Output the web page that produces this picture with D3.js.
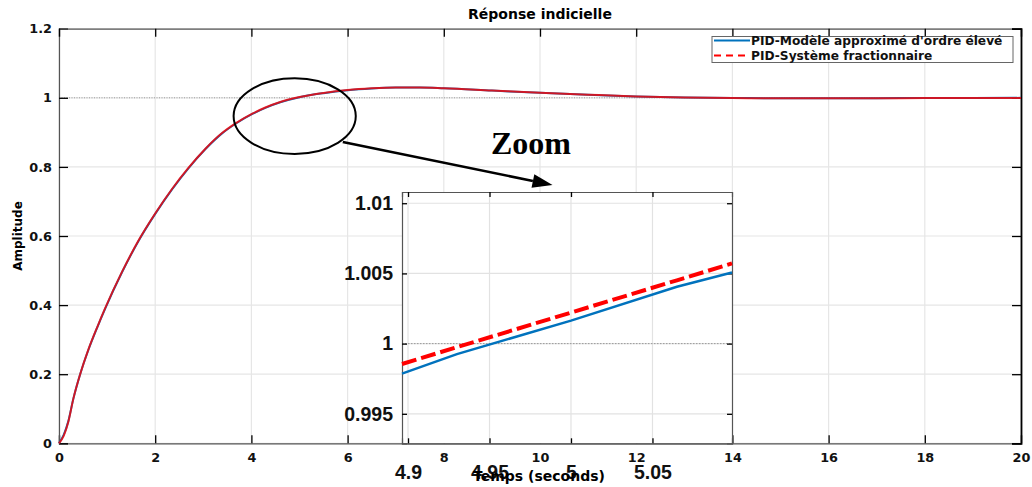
<!DOCTYPE html>
<html><head><meta charset="utf-8">
<script src="https://cdn.jsdelivr.net/npm/d3@7"></script>
<style>body{margin:0;background:#fff}svg{display:block}</style>
</head><body>
<svg id="c" width="1032" height="487"></svg>
<script>
// ---- data ----
const time = [0, 0.1, 0.19, 0.3, 0.44, 0.61, 0.8, 0.96, 1.31, 1.65, 2.0, 2.35, 2.69, 3.04, 3.39, 3.67, 4.03, 4.29, 4.6, 5.0, 5.5, 6.0, 6.5, 7.0, 7.5, 8.0, 9.0, 10.0, 11.0, 12.0, 13.0, 14.0, 15.0, 16.0, 17.0, 18.0, 20.0];
const bluePID = [0, 0.025, 0.062, 0.13, 0.2, 0.27, 0.337, 0.39, 0.495, 0.585, 0.664, 0.735, 0.796, 0.851, 0.897, 0.925, 0.954, 0.971, 0.987, 1.0017, 1.0135, 1.022, 1.027, 1.0295, 1.0295, 1.0275, 1.021, 1.0145, 1.009, 1.004, 1.001, 0.9995, 0.9988, 0.9987, 0.999, 0.9993, 0.9998];
const redPID  = [0, 0.022, 0.06, 0.13, 0.2, 0.271, 0.338, 0.391, 0.496, 0.586, 0.665, 0.736, 0.797, 0.852, 0.898, 0.926, 0.955, 0.972, 0.988, 1.0022, 1.014, 1.0224, 1.0274, 1.0299, 1.0299, 1.0278, 1.0212, 1.0147, 1.0091, 1.0041, 1.0008, 0.9992, 0.9985, 0.9985, 0.9988, 0.9991, 0.9996];
const insetTime = [4.8963, 4.93, 5.0, 5.065, 5.0988];
const insetBlue = [0.99786, 0.99925, 1.00164, 1.00405, 1.00507];
const insetRed  = [0.99855, 0.99975, 1.00221, 1.00451, 1.00571];
const xTicks = [0, 2, 4, 6, 8, 10, 12, 14, 16, 18, 20];
const yTicks = [0, 0.2, 0.4, 0.6, 0.8, 1, 1.2];
const insetXTicks = [4.9, 4.95, 5, 5.05];
const insetYTicks = [0.995, 1, 1.005, 1.01];
const legendLabels = ["PID-Modèle approximé d'ordre élevé", "PID-Système fractionnaire"];
const titleText = "Réponse indicielle";
const xLabel = "Temps (seconds)";
const yLabel = "Amplitude";

const BLUE = "#0072BD", RED = "#FF0000";
const svg = d3.select("#c");
const L = 59, R = 1021, T = 28.7, B = 443.3;
const x = d3.scaleLinear().domain([0, 20]).range([L, R]);
const y = d3.scaleLinear().domain([0, 1.2]).range([B, T]);
const mainFont = "'DejaVu Sans', sans-serif";

// grid
const g = svg.append("g");
g.selectAll(".vg").data(xTicks).join("line").attr("x1", d => x(d)).attr("x2", d => x(d)).attr("y1", T).attr("y2", B).attr("stroke", "#e6e6e6").attr("stroke-width", 1.2);
g.selectAll(".hg").data(yTicks).join("line").attr("y1", d => y(d)).attr("y2", d => y(d)).attr("x1", L).attr("x2", R).attr("stroke", "#e6e6e6").attr("stroke-width", 1.2);
g.append("line").attr("x1", L).attr("x2", R).attr("y1", y(1)).attr("y2", y(1)).attr("stroke", "#888").attr("stroke-width", 0.8).attr("stroke-dasharray", "1,1.5");

// axes
const axB = d3.axisBottom(x).tickValues(xTicks).tickSize(-8).tickPadding(10).tickFormat(d3.format("d"));
const axL = d3.axisLeft(y).tickValues(yTicks).tickSize(-9).tickPadding(7).tickFormat(d => d === 0 || d === 1 ? String(d) : d3.format(".1f")(d));
const axT = d3.axisTop(x).tickValues(xTicks).tickSize(-8).tickFormat("");
const axR = d3.axisRight(y).tickValues(yTicks).tickSize(-9).tickFormat("");
function styleAx(sel) {
  sel.select(".domain").attr("stroke", "#555").attr("stroke-width", 1.2);
  sel.selectAll(".tick line").attr("stroke", "#000").attr("stroke-width", 1.3);
  sel.selectAll("text").attr("font-family", mainFont).attr("font-weight", "bold").attr("font-size", 12.8).attr("fill", "#111");
}
svg.append("g").attr("transform", `translate(0,${B})`).call(axB).call(styleAx);
svg.append("g").attr("transform", `translate(${L},0)`).call(axL).call(styleAx);
svg.append("g").attr("transform", `translate(0,${T})`).call(axT).call(styleAx);
svg.append("g").attr("transform", `translate(${R},0)`).call(axR).call(styleAx).select(".domain").attr("stroke", "#000").attr("stroke-width", 1.8);

// lines
const line = d3.line().x((d, i) => x(time[i])).y(d => y(d)).curve(d3.curveMonotoneX);
svg.append("path").attr("d", line(bluePID)).attr("fill", "none").attr("stroke", BLUE).attr("stroke-width", 2);
svg.append("path").attr("d", line(redPID)).attr("fill", "none").attr("stroke", RED).attr("stroke-width", 2).attr("stroke-opacity", 0.8);

// title & labels
svg.append("text").attr("x", 540).attr("y", 19).attr("text-anchor", "middle").attr("font-family", mainFont).attr("font-weight", "bold").attr("font-size", 14).text(titleText);
svg.append("text").attr("transform", `translate(22,236) rotate(-90)`).attr("text-anchor", "middle").attr("font-family", mainFont).attr("font-weight", "bold").attr("font-size", 12).text(yLabel);

// legend
const lg = svg.append("g");
lg.append("rect").attr("x", 712).attr("y", 36.5).attr("width", 301).attr("height", 26).attr("fill", "#fff").attr("stroke", "#666").attr("stroke-width", 1);
[BLUE, RED].forEach((c, i) => {
  const yy = 40.5 + i * 15;
  lg.append("line").attr("x1", 714).attr("x2", 750).attr("y1", yy).attr("y2", yy).attr("stroke", c).attr("stroke-width", 2).attr("stroke-dasharray", i ? "7,5" : null);
  lg.append("text").attr("x", 751).attr("y", yy + 4.6).attr("font-family", mainFont).attr("font-weight", "bold").attr("font-size", 12.2).attr("fill", "#111").text(legendLabels[i]);
});

// ellipse annotation
svg.append("ellipse").attr("cx", x(4.9)).attr("cy", y(0.947)).attr("rx", x(1.27) - x(0)).attr("ry", y(0) - y(0.1095)).attr("fill", "none").attr("stroke", "#000").attr("stroke-width", 2);
// arrow
const ax0 = x(5.9), ay0 = y(0.872), ax1 = x(10.26), ay1 = y(0.7476);
const ang = Math.atan2(ay1 - ay0, ax1 - ax0);
const hl = 20, hw = 7;
const bx = ax1 - hl * Math.cos(ang), by = ay1 - hl * Math.sin(ang);
svg.append("line").attr("x1", ax0).attr("y1", ay0).attr("x2", bx).attr("y2", by).attr("stroke", "#000").attr("stroke-width", 2.6);
svg.append("path").attr("d", `M${ax1},${ay1}L${bx - hw * Math.sin(ang)},${by + hw * Math.cos(ang)}L${bx + hw * Math.sin(ang)},${by - hw * Math.cos(ang)}Z`).attr("fill", "#000");
svg.append("text").attr("x", x(8.98)).attr("y", y(0.837)).attr("font-family", "'Liberation Serif', 'Times New Roman', serif").attr("font-weight", "bold").attr("font-size", 32).text("Zoom");

// inset
const IL = 402, IR = 732, IT = 192, IB = 443.3;
const xi = d3.scaleLinear().domain([4.8963, 5.0988]).range([IL, IR]);
const yi = d3.scaleLinear().domain([0.9929, 1.0108]).range([IB, IT]);
const ig = svg.append("g");
ig.append("rect").attr("x", IL).attr("y", IT).attr("width", IR - IL).attr("height", IB - IT).attr("fill", "#fff");
ig.selectAll(".ivg").data(insetXTicks).join("line").attr("x1", d => xi(d)).attr("x2", d => xi(d)).attr("y1", IT).attr("y2", IB).attr("stroke", "#e2e2e2").attr("stroke-width", 1.2);
ig.selectAll(".ihg").data(insetYTicks).join("line").attr("y1", d => yi(d)).attr("y2", d => yi(d)).attr("x1", IL).attr("x2", IR).attr("stroke", "#e2e2e2").attr("stroke-width", 1.2);
ig.append("line").attr("x1", IL).attr("x2", IR).attr("y1", yi(1)).attr("y2", yi(1)).attr("stroke", "#999").attr("stroke-width", 1).attr("stroke-dasharray", "1.5,1.5");
const insetFont = "'Liberation Sans', Arial, sans-serif";
function styleIn(sel) {
  sel.select(".domain").attr("stroke", "#555").attr("stroke-width", 1.2);
  sel.selectAll(".tick line").attr("stroke", "#000").attr("stroke-width", 1.3);
  sel.selectAll("text").attr("font-family", insetFont).attr("font-weight", "bold").attr("font-size", 19.5).attr("fill", "#111");
}
ig.append("g").attr("transform", `translate(0,${IB})`).call(d3.axisBottom(xi).tickValues(insetXTicks).tickSize(-5).tickPadding(22).tickFormat(d => String(d))).call(styleIn);
ig.append("g").attr("transform", `translate(${IL},0)`).call(d3.axisLeft(yi).tickValues(insetYTicks).tickSize(-5).tickPadding(9).tickFormat(d => String(d))).call(styleIn);
ig.append("g").attr("transform", `translate(0,${IT})`).call(d3.axisTop(xi).tickValues(insetXTicks).tickSize(-5).tickFormat("")).call(styleIn);
ig.append("g").attr("transform", `translate(${IR},0)`).call(d3.axisRight(yi).tickValues(insetYTicks).tickSize(-5).tickFormat("")).call(styleIn);
const iline = d3.line().x((d, i) => xi(insetTime[i])).y(d => yi(d));
ig.append("path").attr("d", iline(insetBlue)).attr("fill", "none").attr("stroke", BLUE).attr("stroke-width", 2.5);
ig.append("path").attr("d", iline(insetRed)).attr("fill", "none").attr("stroke", RED).attr("stroke-width", 4).attr("stroke-dasharray", "15,5");

// x label (drawn last, overlapping inset tick labels as in reference)
svg.append("text").attr("x", 539).attr("y", 481).attr("text-anchor", "middle").attr("font-family", mainFont).attr("font-weight", "bold").attr("font-size", 14).text(xLabel);
</script>
</body></html>
